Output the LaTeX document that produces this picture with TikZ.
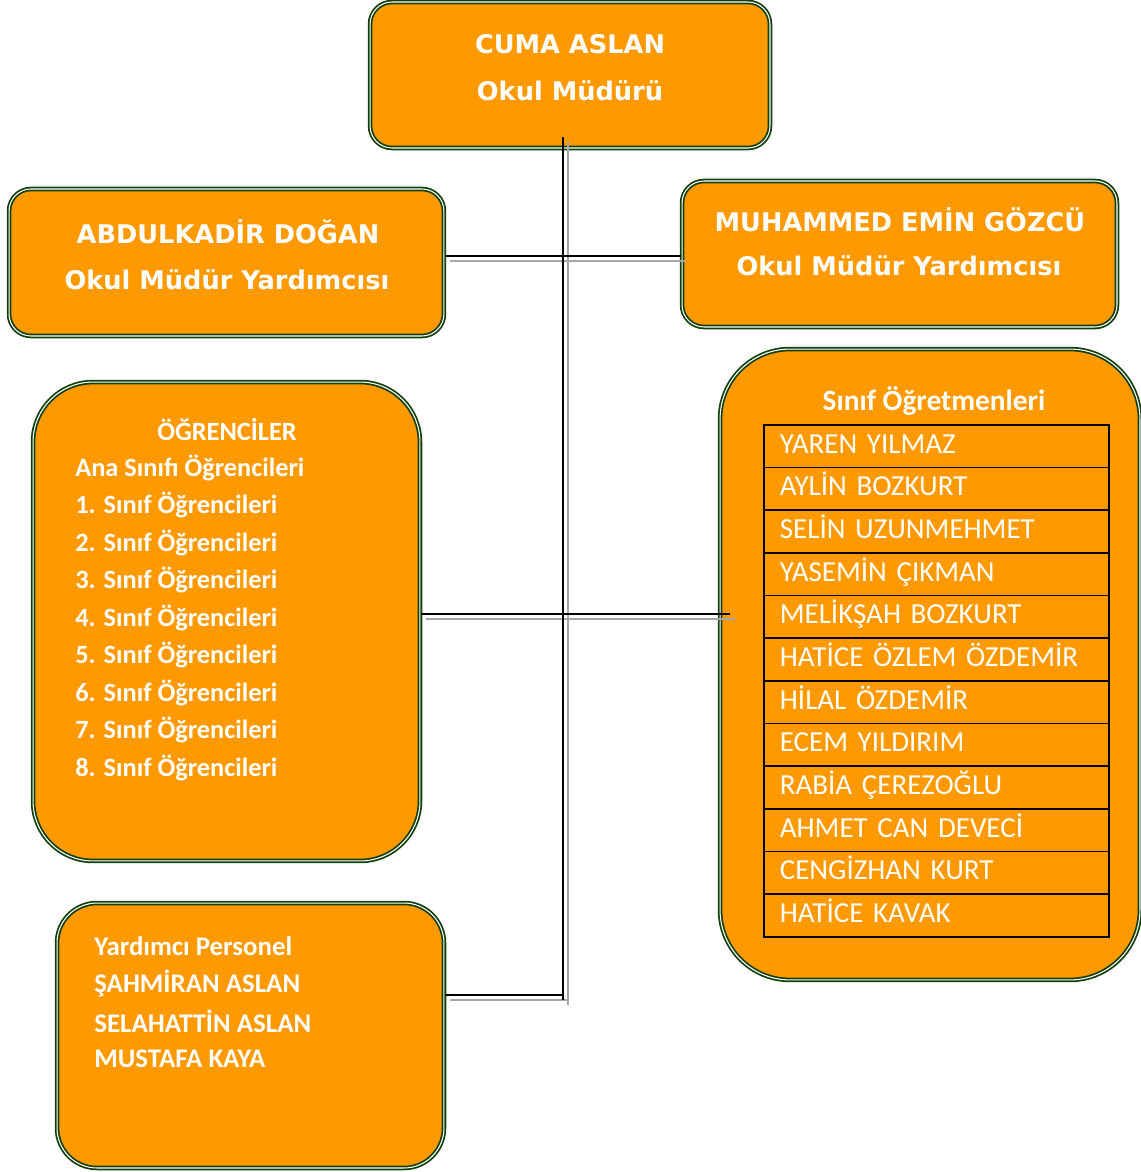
\documentclass[tikz,border=0pt]{standalone}
\usepackage{fontspec}
\setmainfont{Carlito}
\newfontfamily\headfont{DejaVu Sans}
\usetikzlibrary{calc}
\definecolor{turuncu}{RGB}{255,153,0}
\definecolor{koyuyesil}{RGB}{18,64,12}

\begin{document}
\begin{tikzpicture}[x=0.02cm,y=-0.02cm,
  kutu/.style={draw=koyuyesil,fill=turuncu,line width=1pt,double=white,double distance=0.6pt},
  baslik/.style={text=white,font=\headfont\bfseries\fontsize{14.6}{17}\selectfont},
  liste/.style={text=white,anchor=west,inner xsep=0pt,font=\bfseries\fontsize{15}{17}\selectfont},
  hucre/.style={draw=black,line width=1pt,anchor=north west,minimum width=6.9cm,minimum height=0.853cm,
    text width=6.26cm,inner xsep=9pt,inner ysep=0pt,text height=11.5pt,text depth=3.5pt,
    align=left,text=white,font=\fontsize{16.5}{19}\selectfont},
  hat/.style={black,line width=1.2pt},
  golge/.style={gray!70,line width=1.2pt,transform canvas={xshift=0.1cm,yshift=-0.1cm}}]
\useasboundingbox (0,0) rectangle (1141,1172);

% kutular
\node[kutu,rounded corners=0.44cm,minimum width=8cm,minimum height=2.92cm] (mudur) at (570,75) {};
\node[kutu,rounded corners=0.44cm,minimum width=8.7cm,minimum height=2.94cm] (abd) at (226.5,262.5) {};
\node[kutu,rounded corners=0.44cm,minimum width=8.7cm,minimum height=2.92cm] (muh) at (899.5,254) {};
\node[kutu,rounded corners=1.2cm,minimum width=7.74cm,minimum height=9.58cm] (ogr) at (226.5,621.5) {};
\node[kutu,rounded corners=1.4cm,minimum width=8.4cm,minimum height=12.62cm] (sinif) at (930,664.5) {};
\node[kutu,rounded corners=0.8cm,minimum width=7.74cm,minimum height=5.3cm] (yard) at (250.5,1035.5) {};

% baglantilar
\coordinate (ust) at (563,137);
\coordinate (alt) at (563,1000);
\coordinate (k1) at (563,256);
\coordinate (k2) at (563,614);
\coordinate (k3) at (563,995);
\foreach \c in {golge,hat} {
  \draw[\c] (ust) -- (alt);
  \draw[\c] (abd.east |- k1) -- (muh.west |- k1);
  \draw[\c] (ogr.east |- k2) -- ($(sinif.west |- k2)+(11,0)$);
  \draw[\c] (yard.east |- k3) -- (k3);
}

% yazilar
\node[baslik] (mudurad) at (570,44) {CUMA ASLAN};
\node[baslik] (mudurunvan) at (570,91) {Okul Müdürü};
\node[baslik] (abdad) at (228,232) {ABDULKADİR DOĞAN};
\node[baslik] (abdunvan) at (227,280) {Okul Müdür Yardımcısı};
\node[baslik] (muhad) at (900,220) {MUHAMMED EMİN GÖZCÜ};
\node[baslik] (muhunvan) at (899,266) {Okul Müdür Yardımcısı};

\node[liste,anchor=center] (ogrbaslik) at (227,430) {ÖĞRENCİLER};
\foreach \s [count=\i] in {Ana Sınıfı Öğrencileri,1. Sınıf Öğrencileri,2. Sınıf Öğrencileri,
  3. Sınıf Öğrencileri,4. Sınıf Öğrencileri,5. Sınıf Öğrencileri,6. Sınıf Öğrencileri,
  7. Sınıf Öğrencileri,8. Sınıf Öğrencileri}
  \node[liste] (ogr\i) at (75,{468+37.5*(\i-1)}) {\s};

\node[liste,anchor=center,font=\bfseries\fontsize{16.7}{19}\selectfont] (sinifbaslik) at (934,401) {Sınıf Öğretmenleri};
\foreach \o [count=\i] in {YAREN YILMAZ,AYLİN BOZKURT,SELİN UZUNMEHMET,YASEMİN ÇIKMAN,
  MELİKŞAH BOZKURT,HATİCE ÖZLEM ÖZDEMİR,HİLAL ÖZDEMİR,ECEM YILDIRIM,RABİA ÇEREZOĞLU,
  AHMET CAN DEVECİ,CENGİZHAN KURT,HATİCE KAVAK}
  \node[hucre] (ogt\i) at (763,{424+42.67*(\i-1)}) {\o};

\foreach \p [count=\i] in {Yardımcı Personel,ŞAHMİRAN ASLAN,SELAHATTİN ASLAN,MUSTAFA KAYA}
  \node[liste,font=\bfseries\fontsize{15.3}{17}\selectfont] (yard\i) at (94,{946+37.7*(\i-1)}) {\p};

\end{tikzpicture}
\end{document}
